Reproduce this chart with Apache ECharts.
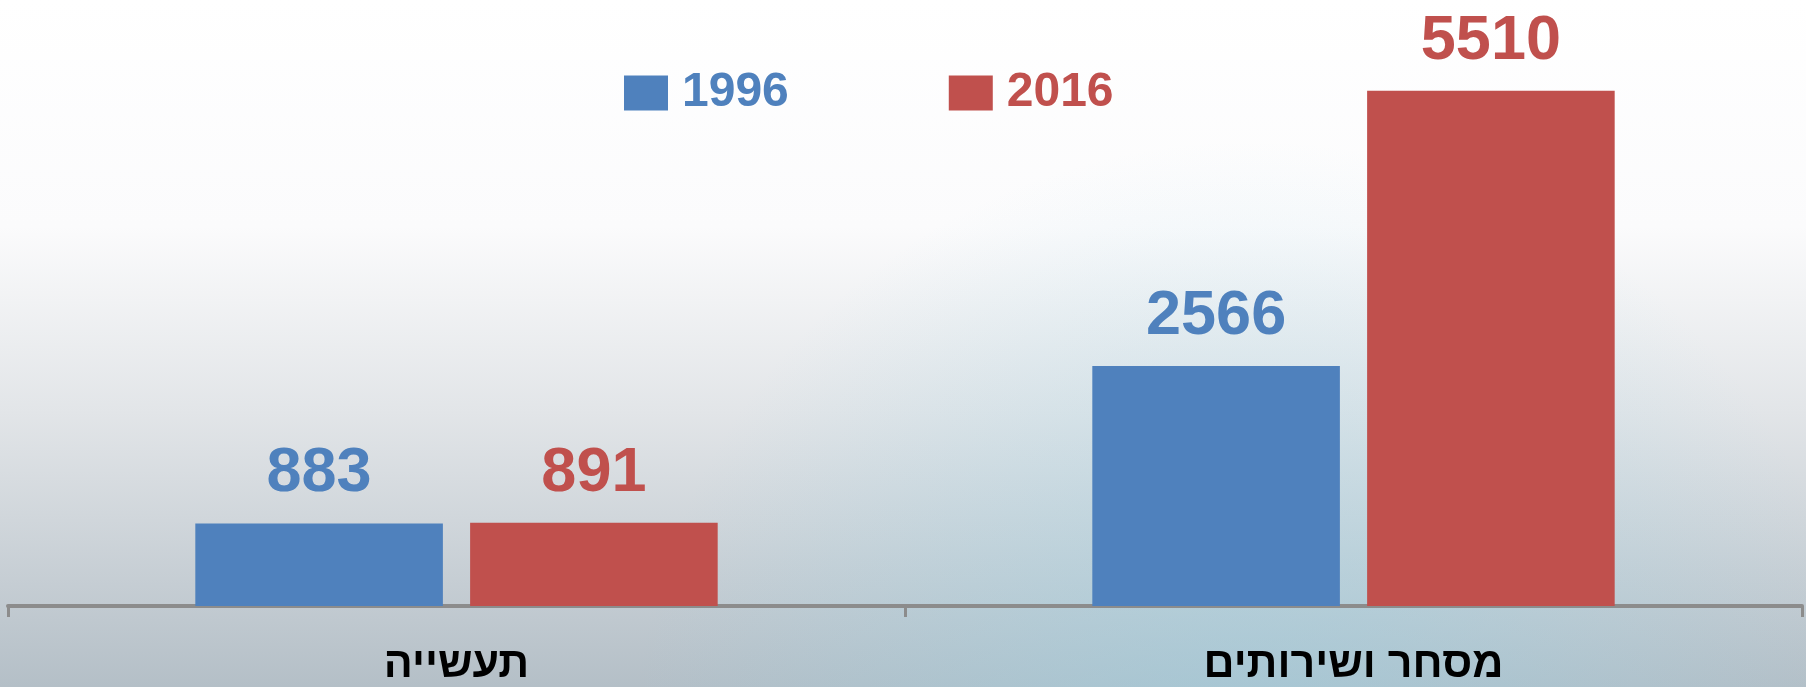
<!DOCTYPE html>
<html>
<head>
<meta charset="UTF-8">
<title>chart</title>
<script src="https://cdn.jsdelivr.net/npm/echarts@6/dist/echarts.min.js"></script>
<style>
  html, body { margin: 0; padding: 0; }
  #main { width: 1806px; height: 687px; }
</style>
</head>
<body>
<div id="main"></div>
<script>
// data
var categories = ['תעשייה', 'מסחר ושירותים'];
var years = ['1996', '2016'];
var values1996 = [883, 2566];
var values2016 = [891, 5510];
var colors = ['#4F81BD', '#C0504D'];

var myChart = echarts.init(document.getElementById('main'));

var labelStyle = function (c) {
  return {
    show: true,
    position: 'top',
    distance: 18,
    color: c,
    fontFamily: 'Liberation Sans, Arial, sans-serif',
    fontWeight: 'bold',
    fontSize: 63
  };
};

var option = {
  backgroundColor: {
    type: 'linear', x: 0, y: 0, x2: 0, y2: 1,
    colorStops: [
      { offset: 0, color: '#ffffff' },
      { offset: 0.33, color: '#fbfbfc' },
      { offset: 0.6, color: '#e2e5e8' },
      { offset: 1, color: '#b4bfc7' }
    ]
  },
  graphic: [{
    type: 'circle',
    silent: true,
    z: -1,
    shape: { cx: 1250, cy: 760, r: 620 },
    style: {
      fill: {
        type: 'radial', x: 0.5, y: 0.5, r: 0.5,
        colorStops: [
          { offset: 0, color: 'rgba(150,210,230,0.45)' },
          { offset: 1, color: 'rgba(150,210,230,0)' }
        ]
      }
    }
  }],
  legend: {
    left: 624,
    top: 69,
    padding: 0,
    itemWidth: 44,
    itemHeight: 35,
    itemGap: 160,
    icon: 'rect',
    data: [
      { name: years[0], textStyle: { color: colors[0] } },
      { name: years[1], textStyle: { color: colors[1] } }
    ],
    textStyle: {
      fontFamily: 'Liberation Sans, Arial, sans-serif',
      fontWeight: 'bold',
      fontSize: 48,
      padding: [0, 0, 0, 9]
    }
  },
  grid: { left: 8, right: 4, top: 45, bottom: 77 },
  xAxis: {
    type: 'category',
    data: categories,
    axisLine: { lineStyle: { color: '#8c8c8c', width: 4 } },
    axisTick: { show: true, length: 11, lineStyle: { color: '#8c8c8c', width: 3 } },
    axisLabel: {
      margin: 38,
      color: '#000',
      fontFamily: 'Liberation Sans, Arial, sans-serif',
      fontWeight: 'bold',
      fontSize: 43
    }
  },
  yAxis: {
    type: 'value',
    min: 0,
    max: 6000,
    show: false,
    splitLine: { show: false }
  },
  series: [
    {
      name: years[0],
      type: 'bar',
      data: values1996,
      barWidth: '27.6%',
      barGap: '11%',
      itemStyle: { color: colors[0] },
      label: labelStyle(colors[0])
    },
    {
      name: years[1],
      type: 'bar',
      data: values2016,
      barWidth: '27.6%',
      itemStyle: { color: colors[1] },
      label: labelStyle(colors[1])
    }
  ]
};
myChart.setOption(option);
</script>
</body>
</html>
